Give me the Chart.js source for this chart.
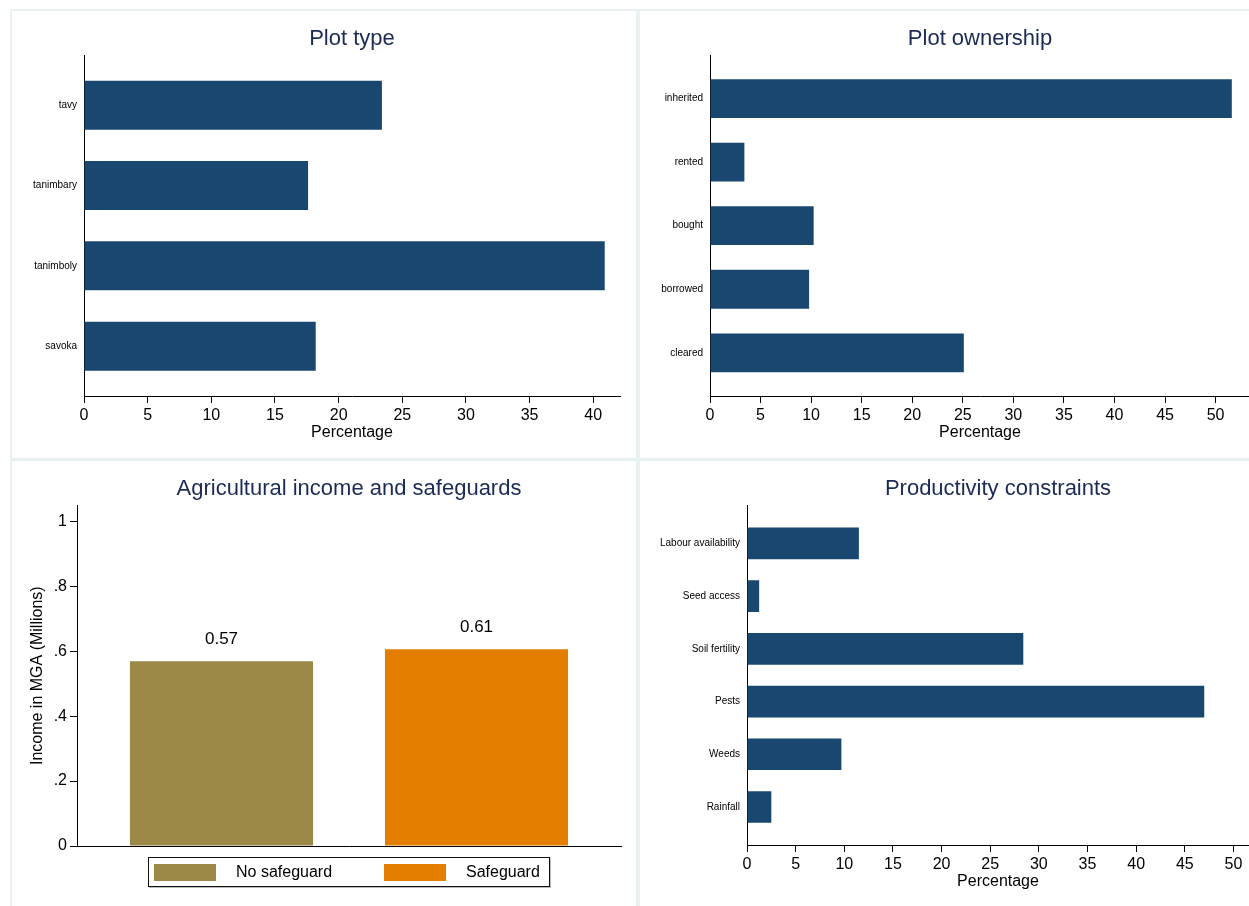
<!DOCTYPE html>
<html>
<head>
<meta charset="utf-8">
<script src="https://cdn.jsdelivr.net/npm/chart.js@4.4.1/dist/chart.umd.min.js"></script>
<style>
  html, body { margin: 0; padding: 0; background: #fff; }
  body { position: relative; width: 1249px; height: 906px; overflow: hidden; font-family: 'Liberation Sans', Arial, sans-serif; }
  .panel { position: absolute; box-sizing: border-box; border: 2px solid #e9f1f2; background: #fff; }
  .panel canvas { position: absolute; left: 0; top: 0; }
  #legend { position: absolute; left: 136px; top: 396px; width: 402px; height: 30px; box-sizing: border-box;
            border: 1px solid #111; box-shadow: 1px 1px 0 #bbb; display: flex; align-items: center;
            padding-left: 5px; font-size: 16px; color: #000; }
  #legend .item { display: flex; align-items: center; }
  #legend .item:first-child { width: 230px; }
  #legend .swatch { width: 62px; height: 17px; margin-right: 20px; }
</style>
</head>
<body>
<div class="panel" style="left:10px; top:9px; width:628px; height:451px;"><canvas id="plotType" width="624" height="447"></canvas></div>
<div class="panel" style="left:638px; top:9px; width:640px; height:451px;"><canvas id="ownership" width="636" height="447"></canvas></div>
<div class="panel" style="left:10px; top:459px; width:628px; height:470px;"><canvas id="income" width="624" height="466"></canvas><div id="legend"></div></div>
<div class="panel" style="left:638px; top:459px; width:640px; height:470px;"><canvas id="constraints" width="636" height="466"></canvas></div>

<script>
// values (percent of plots / respondents)
const plotTypes = ['tavy', 'tanimbary', 'tanimboly', 'savoka'];
const plotTypeShare = [23.4, 17.6, 40.9, 18.2];

const ownershipTypes = ['inherited', 'rented', 'bought', 'borrowed', 'cleared'];
const ownershipShare = [51.6, 3.4, 10.25, 9.8, 25.1];

const safeguardGroups = ['No safeguard', 'Safeguard'];
const incomeMillions = [0.569, 0.606];

const constraints = ['Labour availability', 'Seed access', 'Soil fertility', 'Pests', 'Weeds', 'Rainfall'];
const constraintShare = [11.5, 1.25, 28.4, 47.0, 9.7, 2.5];

const barNavy = '#1a476f';
const groupColors = ['#9c8847', '#e37e00'];
const titleColor = '#1c2b55';

Chart.defaults.font.family = "'Liberation Sans', Arial, sans-serif";
Chart.defaults.color = '#000';

function titleOpts(text) {
  return {
    display: true, text: text, color: titleColor, fullSize: false,
    font: { size: 22, weight: 'normal' },
    padding: { top: 15, bottom: 3 }
  };
}

// horizontal bar panel, categories on a linear index axis so the outer gaps can be set
function hbar(id, labels, values, o) {
  return new Chart(document.getElementById(id), {
    type: 'bar',
    data: {
      datasets: [{
        data: values.map((v, i) => ({ x: v, y: i })),
        backgroundColor: barNavy,
        borderWidth: 0,
        barPercentage: o.barPct,
        categoryPercentage: 1
      }]
    },
    options: {
      indexAxis: 'y',
      responsive: false,
      animation: false,
      layout: { padding: { left: 0, top: 0, right: o.padRight, bottom: o.padBottom || 0 } },
      plugins: { legend: { display: false }, tooltip: { enabled: false }, title: titleOpts(o.title) },
      scales: {
        y: {
          type: 'linear', reverse: true, offset: false, bounds: 'data',
          min: -o.gap, max: labels.length - 1 + o.gap,
          grid: { display: false, drawTicks: false },
          border: { color: '#000' },
          afterBuildTicks: s => { s.ticks = labels.map((_, i) => ({ value: i })); },
          ticks: { autoSkip: false, padding: 7, color: '#000', font: { size: 10 }, callback: v => labels[v] },
          afterFit: s => { s.width = o.yWidth; }
        },
        x: {
          type: 'linear', min: 0, max: o.xMax, bounds: 'data',
          ticks: { stepSize: 5, includeBounds: false, padding: 3, color: '#000', font: { size: 16 }, maxRotation: 0 },
          grid: { drawOnChartArea: false, tickLength: 7, color: '#000' },
          border: { color: '#000' },
          title: { display: true, text: 'Percentage', color: '#000', font: { size: 16 }, padding: { top: 0, bottom: 16 } },
          afterFit: s => { s.height = 62; }
        }
      }
    }
  });
}

hbar('plotType', plotTypes, plotTypeShare, { title: 'Plot type', gap: 0.62, barPct: 0.61, yWidth: 72, padRight: 16, xMax: 42.1 });
hbar('ownership', ownershipTypes, ownershipShare, { title: 'Plot ownership', gap: 0.68, barPct: 0.61, yWidth: 70, padRight: 26, xMax: 53.4 });
hbar('constraints', constraints, constraintShare, { title: 'Productivity constraints', gap: 0.72, barPct: 0.6, yWidth: 107, padRight: 27, padBottom: 20, xMax: 51.6 });

// labels above the income bars
const valueLabels = {
  id: 'valueLabels',
  afterDatasetsDraw(chart) {
    const ctx = chart.ctx;
    ctx.save();
    ctx.font = "17px 'Liberation Sans', Arial, sans-serif";
    ctx.fillStyle = '#000';
    ctx.textAlign = 'center';
    ctx.textBaseline = 'middle';
    chart.data.datasets.forEach((ds, i) => {
      chart.getDatasetMeta(i).data.forEach((bar, j) => {
        ctx.fillText(ds.data[j].toFixed(2), bar.x, bar.y - 22);
      });
    });
    ctx.restore();
  }
};

function incomeTick(v) {
  const r = Math.round(v * 10) / 10;
  if (r === 0) return '0';
  if (r === 1) return '1';
  return String(r).replace(/^0/, '');
}

new Chart(document.getElementById('income'), {
  type: 'bar',
  data: {
    labels: [''],
    datasets: safeguardGroups.map((g, i) => ({
      label: g,
      data: [incomeMillions[i]],
      backgroundColor: groupColors[i],
      borderWidth: 0,
      categoryPercentage: 0.9375,
      barPercentage: 0.718
    }))
  },
  options: {
    responsive: false,
    animation: false,
    layout: { padding: { left: 0, top: 0, right: 15, bottom: 81 } },
    plugins: { legend: { display: false }, tooltip: { enabled: false }, title: titleOpts('Agricultural income and safeguards') },
    scales: {
      x: {
        ticks: { display: false },
        grid: { display: false },
        border: { color: '#000' },
        afterFit: s => { s.height = 0; }
      },
      y: {
        min: 0, max: 1.049, bounds: 'data',
        ticks: { stepSize: 0.2, includeBounds: false, padding: 3, color: '#000', font: { size: 16 }, callback: incomeTick },
        grid: { drawOnChartArea: false, tickLength: 7, color: '#000' },
        border: { color: '#000' },
        title: { display: true, text: 'Income in MGA (Millions)', color: '#000', font: { size: 16 }, padding: { top: 16, bottom: 0 } },
        afterFit: s => { s.width = 65; }
      }
    }
  },
  plugins: [valueLabels]
});

// legend box under the income chart
const legend = document.getElementById('legend');
safeguardGroups.forEach((g, i) => {
  const item = document.createElement('div');
  item.className = 'item';
  const sw = document.createElement('span');
  sw.className = 'swatch';
  sw.style.background = groupColors[i];
  const txt = document.createElement('span');
  txt.textContent = g;
  item.appendChild(sw);
  item.appendChild(txt);
  legend.appendChild(item);
});
</script>
</body>
</html>
